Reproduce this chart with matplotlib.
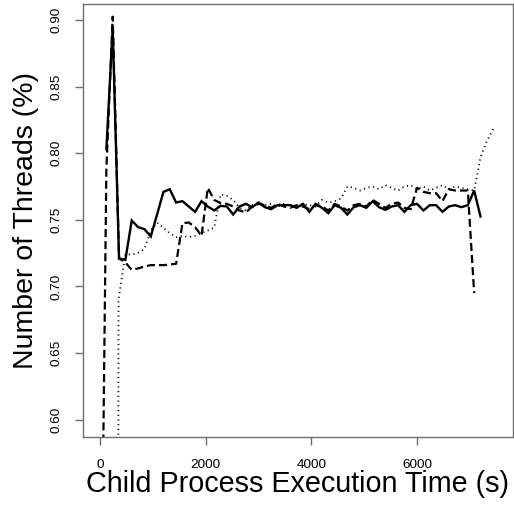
import matplotlib
matplotlib.use("Agg")
import matplotlib.pyplot as plt

plt.rcParams["font.family"] = ["Liberation Sans", "DejaVu Sans"]
plt.rcParams["lines.scale_dashes"] = False

# sample times (s), one sample every 120 s
time_solid = list(range(120, 7201, 120))
time_dashed = list(range(0, 7081, 120))
time_dotted = [340, 350] + list(range(480, 7441, 120))

threads_solid = [
    0.803, 0.894, 0.721, 0.720, 0.7495, 0.7445, 0.743, 0.7375, 0.754, 0.771,
    0.773, 0.763, 0.764, 0.760, 0.756, 0.764, 0.760, 0.757, 0.7605, 0.760,
    0.754, 0.760, 0.762, 0.7595, 0.763, 0.7595, 0.758, 0.761, 0.761, 0.761,
    0.759, 0.762, 0.756, 0.762, 0.759, 0.755, 0.761, 0.759, 0.754, 0.7595,
    0.761, 0.759, 0.764, 0.7595, 0.7575, 0.760, 0.761, 0.756, 0.761, 0.762,
    0.757, 0.761, 0.761, 0.756, 0.760, 0.761, 0.7595, 0.761, 0.772, 0.7525,
]

threads_dashed = [
    0.36, 0.788, 0.9025, 0.721, 0.718, 0.7125, 0.7135, 0.715, 0.716, 0.716,
    0.716, 0.7165, 0.717, 0.7475, 0.748, 0.7445, 0.738, 0.774, 0.765, 0.7625,
    0.762, 0.760, 0.757, 0.7555, 0.760, 0.762, 0.761, 0.759, 0.762, 0.760,
    0.759, 0.761, 0.760, 0.758, 0.761, 0.760, 0.757, 0.762, 0.760, 0.757,
    0.761, 0.762, 0.760, 0.765, 0.762, 0.759, 0.762, 0.763, 0.759, 0.758,
    0.774, 0.771, 0.770, 0.770, 0.764, 0.773, 0.772, 0.772, 0.772, 0.695,
]

threads_dotted = [
    0.40, 0.69, 0.724, 0.724, 0.725, 0.728, 0.742, 0.748, 0.744, 0.740,
    0.737, 0.738, 0.737, 0.738, 0.740, 0.742, 0.744, 0.769, 0.768, 0.765,
    0.759, 0.757, 0.761, 0.763, 0.761, 0.762, 0.760, 0.762, 0.761, 0.760,
    0.762, 0.761, 0.760, 0.765, 0.763, 0.764, 0.766, 0.775, 0.774, 0.772,
    0.774, 0.775, 0.773, 0.776, 0.774, 0.772, 0.775, 0.776, 0.773, 0.775,
    0.772, 0.774, 0.776, 0.773, 0.775, 0.774, 0.773, 0.772, 0.797, 0.809,
    0.818,
]

x_ticks = [0, 2000, 4000, 6000]
y_ticks = [0.60, 0.65, 0.70, 0.75, 0.80, 0.85, 0.90]

W = H = 514
fig = plt.figure(figsize=(W / 100, H / 100), dpi=100)
ax = fig.add_axes([83 / W, 77 / H, 430 / W, 433 / H])

ax.plot(time_solid, threads_solid, color="black", lw=1.7, solid_joinstyle="miter")
ax.plot(time_dashed, threads_dashed, color="black", lw=1.6, dashes=(5.8, 2.9))
ax.plot(time_dotted, threads_dotted, color="black", lw=1.3, dashes=(0.8, 2.6))

ax.set_xlim(-322, 7815)
ax.set_ylim(0.587, 0.912)

ax.set_xticks(x_ticks)
ax.set_xticklabels([str(v) for v in x_ticks])
ax.set_yticks(y_ticks)
ax.set_yticklabels([f"{v:.2f}" for v in y_ticks], rotation=90, va="center")

gray = "#6e6e6e"
for sp in ax.spines.values():
    sp.set_color(gray)
    sp.set_linewidth(1.0)
ax.tick_params(axis="both", length=6, width=1.0, color=gray, labelsize=9.7)
ax.tick_params(axis="x", pad=10)
ax.tick_params(axis="y", pad=9)

ax.set_xlabel("Child Process Execution Time (s)", fontsize=20.7, labelpad=-1)
ax.set_ylabel("Number of Threads (%)", fontsize=20.5, labelpad=8)

fig.savefig("out.png", dpi=100)
